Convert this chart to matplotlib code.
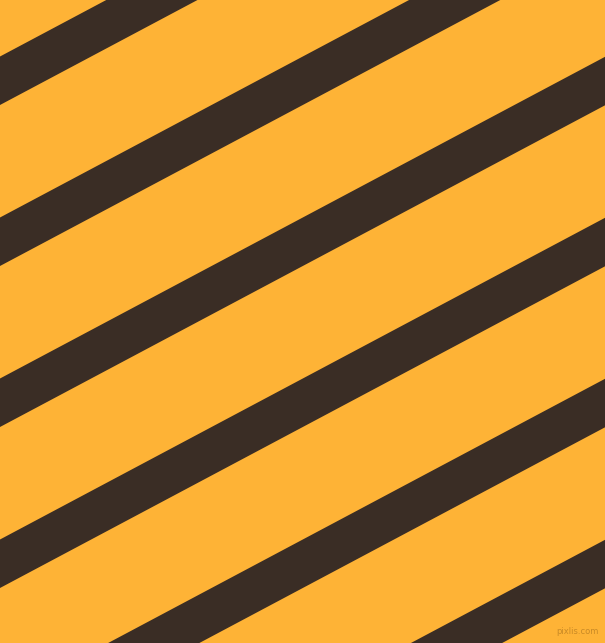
import numpy as np
import matplotlib
matplotlib.use('Agg')
import matplotlib.pyplot as plt

# Stripe data: y of the upper edge where each stripe meets the left border (px)
stripe_starts = [56.5, 217.5, 378.5, 539.5, 700.5, 861.5]
stripe_thickness = 48.5   # vertical thickness of each stripe (px)
stripe_angle = 28         # degrees, rising to the right

bg_color = '#FEB336'
stripe_color = '#3A2D25'

W, H = 605, 643

fig = plt.figure(figsize=(W / 100, H / 100), dpi=100)
ax = fig.add_axes([0, 0, 1, 1])
ax.set_facecolor(bg_color)
ax.set_xlim(0, W)
ax.set_ylim(H, 0)
ax.axis('off')
fig.patch.set_facecolor(bg_color)

slope = np.tan(np.radians(stripe_angle))
x = np.array([0, W])
for start in stripe_starts:
    upper = start - slope * x
    lower = upper + stripe_thickness
    ax.fill_between(x, upper, lower, color=stripe_color, linewidth=0)

# small watermark in the corner
ax.text(577, 632, 'pixlis.com', fontsize=6, color='#C98A26',
        ha='center', va='center')

fig.savefig('out.png', dpi=100, facecolor=bg_color)
